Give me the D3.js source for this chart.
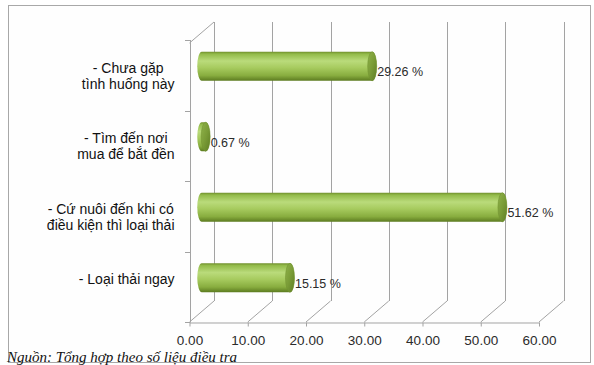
<!DOCTYPE html>
<html><head><meta charset="utf-8">
<script src="https://cdn.jsdelivr.net/npm/d3@7"></script>
<style>html,body{margin:0;padding:0;background:#fff;}svg{display:block;}</style>
</head><body>
<svg id="chart" width="594" height="365"></svg>
<script>
// ---- data ----
const categories = ["Chưa gặp tình huống này", "Tìm đến nơi mua để bắt đền", "Cứ nuôi đến khi có điều kiện thì loại thải", "Loại thải ngay"];
const categoryLines = [["- Chưa gặp", "tình huống này"], ["- Tìm đến nơi", "mua để bắt đền"], ["- Cứ nuôi đến khi có", "điều kiện thì loại thải"], ["- Loại thải ngay"]];
const values = [29.26, 0.67, 51.62, 15.15];
const xTicks = [0, 10, 20, 30, 40, 50, 60];
const caption = "Nguồn: Tổng hợp theo số liệu điều tra";

const svg = d3.select("#chart");
const depthX = 24.5, depthY = 21;   // 3D depth offset
const x = d3.scaleLinear().domain([0, 60]).range([189.5, 539]);
const y = d3.scaleBand().domain(categories).range([40, 322]).padding(0);
const axisCol = "#a3a3a3";

// frame
svg.append("rect").attr("x", 8.5).attr("y", 5.5).attr("width", 582).attr("height", 357)
  .attr("fill", "#fefefe").attr("stroke", "#a8a8a8").attr("stroke-width", 1);

const defs = svg.append("defs");
const g1 = defs.append("linearGradient").attr("id", "body").attr("x1", 0).attr("y1", 0).attr("x2", 0).attr("y2", 1);
[[0, "#708f2c"], [0.08, "#93bb4a"], [0.32, "#badb7b"], [0.55, "#a7cb5f"], [0.82, "#88ad3f"], [1, "#5c7b20"]]
  .forEach(s => g1.append("stop").attr("offset", s[0]).attr("stop-color", s[1]));
const g2 = defs.append("linearGradient").attr("id", "cap").attr("x1", 0).attr("y1", 0).attr("x2", 1).attr("y2", 1);
[[0, "#8fb24a"], [0.5, "#7a9c37"], [1, "#5e7d24"]]
  .forEach(s => g2.append("stop").attr("offset", s[0]).attr("stop-color", s[1]));

const [yTop, yBot] = y.range();
const floorY = yBot;
const grid = svg.append("g").attr("fill", "none").attr("stroke", axisCol).attr("stroke-width", 1);

// back-wall vertical gridlines
grid.selectAll("line.g").data(xTicks).join("line")
  .attr("x1", d => Math.round(x(d) + depthX) + 0.5).attr("x2", d => Math.round(x(d) + depthX) + 0.5)
  .attr("y1", floorY - depthY).attr("y2", yTop + 3 - depthY);
// floor diagonals
grid.selectAll("line.f").data(xTicks).join("line")
  .attr("x1", d => x(d)).attr("y1", floorY)
  .attr("x2", d => x(d) + depthX).attr("y2", floorY - depthY);
// left wall top edge
grid.append("line").attr("x1", x(0)).attr("y1", yTop + 3).attr("x2", x(0) + depthX).attr("y2", yTop + 3 - depthY);
// left (category) axis
grid.append("line").attr("x1", Math.round(x(0)) + 0.5).attr("x2", Math.round(x(0)) + 0.5).attr("y1", yTop).attr("y2", yBot);
const bounds = categories.map(c => y(c)).concat([yBot]);
grid.selectAll("line.t").data(bounds).join("line")
  .attr("x1", Math.round(x(0)) - 5).attr("x2", Math.round(x(0)) + 0.5)
  .attr("y1", d => Math.round(d) + 0.5).attr("y2", d => Math.round(d) + 0.5);

// front x-axis
const xAxis = d3.axisBottom(x).tickValues(xTicks).tickFormat(d3.format(".2f")).tickSize(4).tickSizeOuter(0);
const ax = svg.append("g").attr("transform", `translate(0,${floorY + 0.5})`).call(xAxis);
ax.select(".domain").attr("stroke", axisCol);
ax.selectAll(".tick line").attr("stroke", axisCol);
ax.selectAll(".tick text").attr("fill", "#2b2b2b").attr("font-family", "Liberation Sans, Arial, sans-serif")
  .attr("font-size", 13.5).attr("y", 13).attr("dy", "0.71em");

// cylinders
const barH = 29, rx = 4.5, midX = depthX / 2, midY = 9;
const bars = svg.append("g");
categories.forEach((c, i) => {
  const cy = y(c) + y.bandwidth() / 2 - midY;
  const x0 = x(0) + midX, x1 = x(values[i]) + midX;
  const t = cy - barH / 2, b = cy + barH / 2, ry = barH / 2;
  bars.append("path")
    .attr("d", `M${x0},${t} L${x1},${t} A${rx},${ry} 0 0 1 ${x1},${b} L${x0},${b} A${rx},${ry} 0 0 1 ${x0},${t} Z`)
    .attr("fill", "url(#body)");
  bars.append("ellipse").attr("cx", x1).attr("cy", cy).attr("rx", rx).attr("ry", ry)
    .attr("fill", "url(#cap)").attr("stroke", "#6f8f2f").attr("stroke-width", 0.5);
  svg.append("text").attr("x", x1 + rx + 0.5).attr("y", cy + 10)
    .attr("font-family", "Liberation Sans, Arial, sans-serif").attr("font-size", 12.5).attr("fill", "#2b2b2b")
    .text(d3.format(".2f")(values[i]) + " %");

  // category label: lines centred on each other, block right-aligned
  const lg = svg.append("g").attr("font-family", "Liberation Sans, Arial, sans-serif").attr("font-size", 14).attr("fill", "#111");
  const texts = categoryLines[i].map((s, k) => lg.append("text").attr("y", cy + 6.5 + k * 16).text(s));
  const maxW = d3.max(texts, tt => tt.node().getComputedTextLength());
  texts.forEach(tt => tt.attr("x", 174.5 - maxW / 2).attr("text-anchor", "middle"));
});

// source caption
svg.append("text").attr("x", 7).attr("y", 362)
  .attr("font-family", "Liberation Serif, Times New Roman, serif").attr("font-style", "italic")
  .attr("font-size", 15).attr("fill", "#111").text(caption);
</script>
</body></html>
